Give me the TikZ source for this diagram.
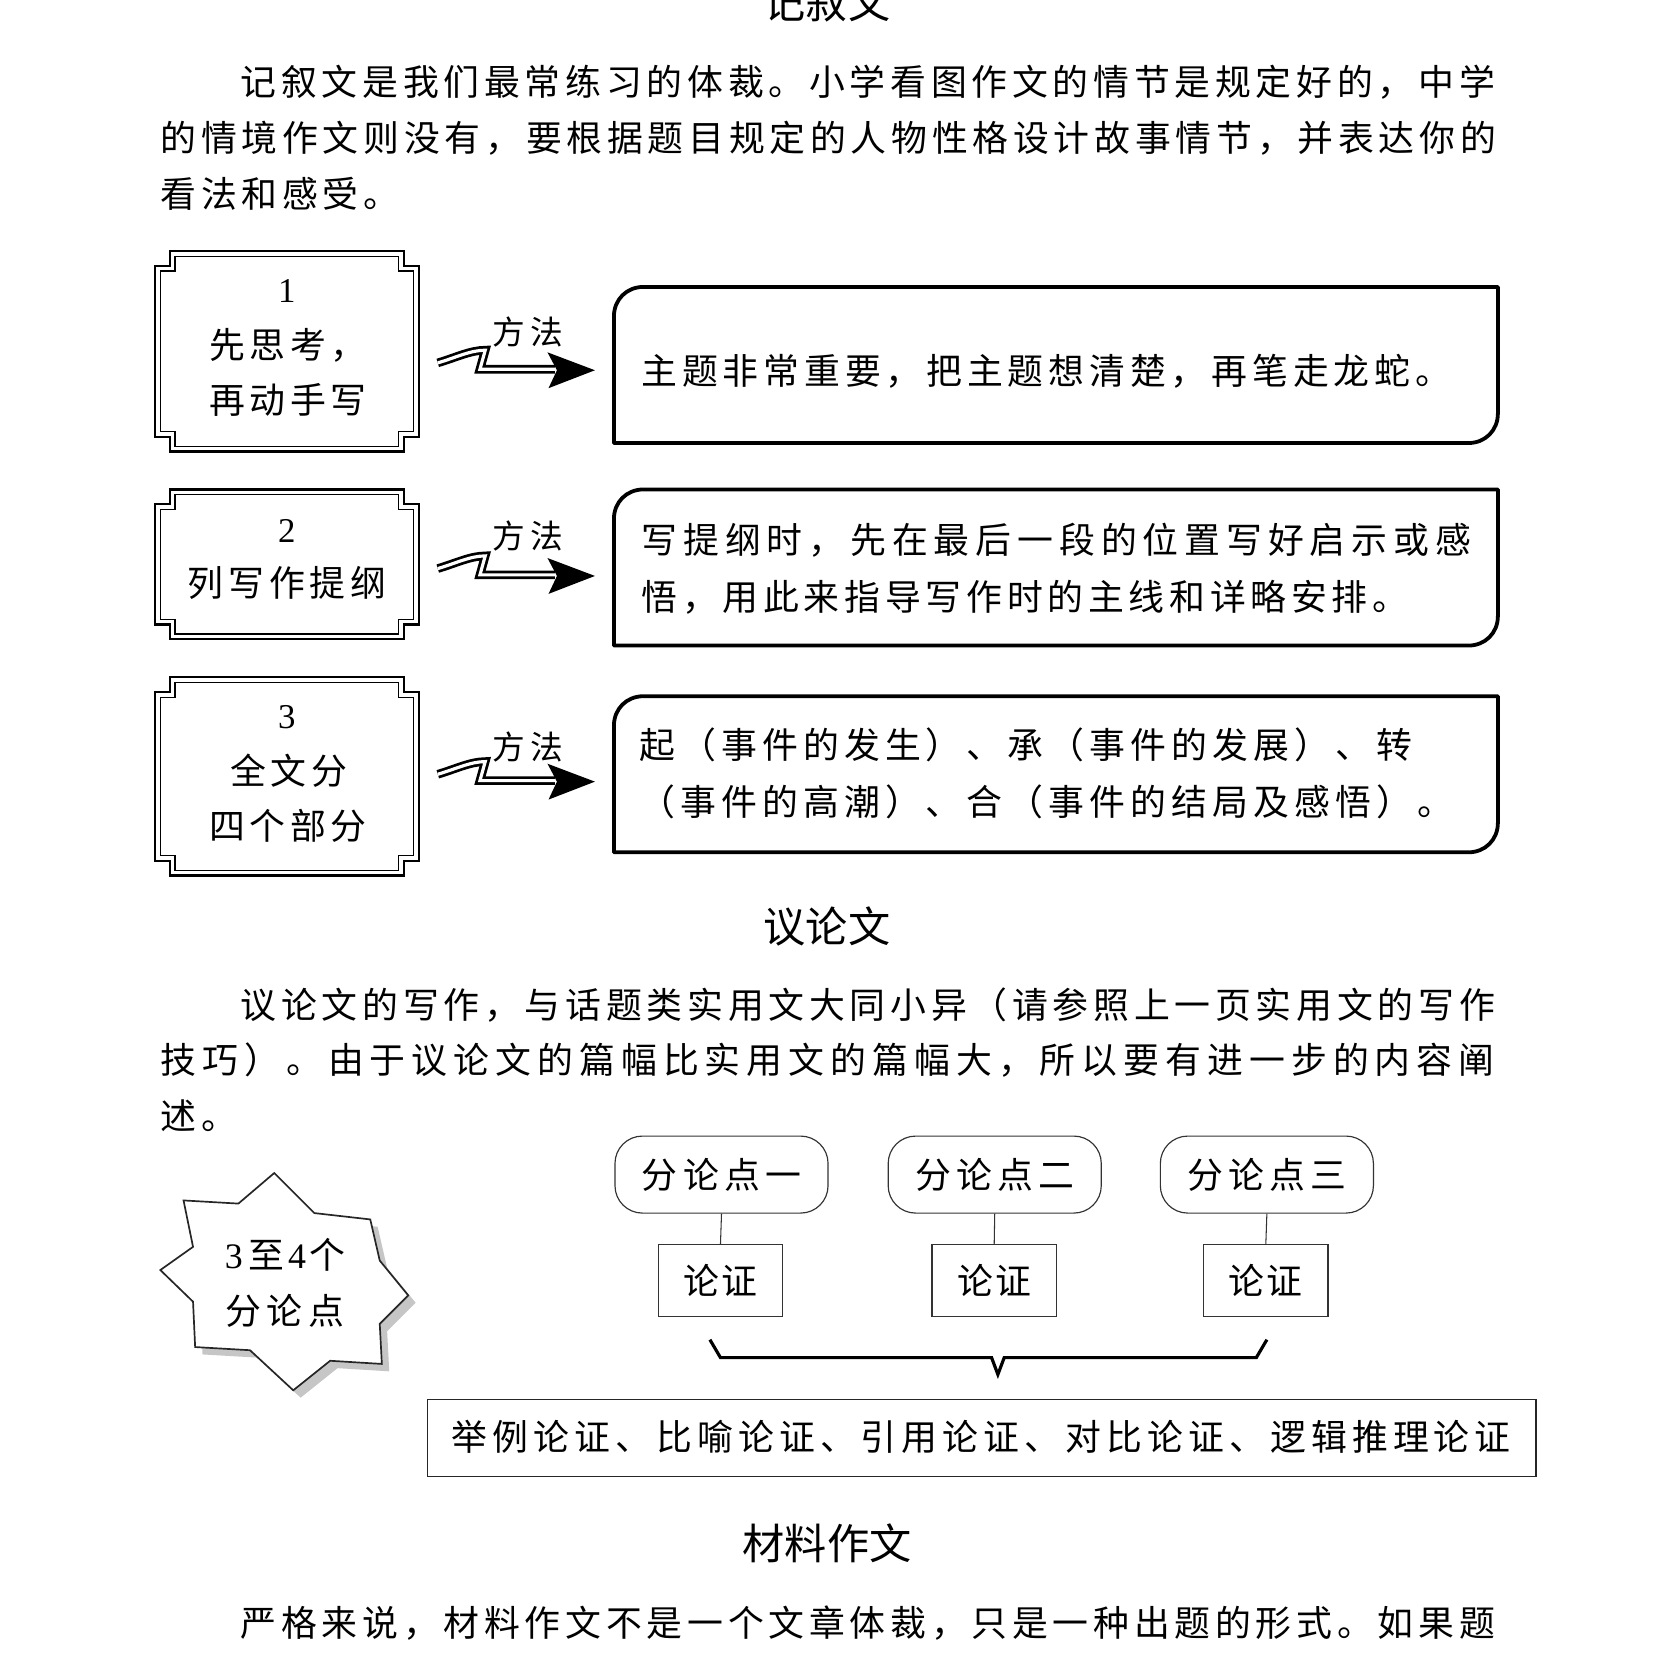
\documentclass[tikz,border=0pt]{standalone}
\usepackage{fontspec}
\setmainfont{Liberation Serif}
\newfontfamily\cjk{Noto Sans CJK SC}
\newlength\cpitch
\newcommand\cstrut{\rule[-0.12em]{0pt}{1em}}
\def\spaux#1{\ifx\relax#1\else\makebox[\cpitch][l]{#1}\expandafter\spaux\fi}
\newcommand\spl[2]{\setlength\cpitch{#1pt}\cstrut\spaux#2\relax\hspace*{\dimexpr1em-\cpitch\relax}}
\newcommand\fancyframe[5]{%
  \draw[line width=2.2pt, fill=white]
    ({#1+14},#2) -- ({#3-14},#2) -- ({#3-14},{#2+14}) -- (#3,{#2+14}) --
    (#3,{#4-14}) -- ({#3-14},{#4-14}) -- ({#3-14},#4) -- ({#1+14},#4) --
    ({#1+14},{#4-14}) -- (#1,{#4-14}) -- (#1,{#2+14}) -- ({#1+14},{#2+14}) -- cycle;
  \draw[line width=1.2pt]
    ({#1+19},{#2+5}) -- ({#3-19},{#2+5}) -- ({#3-19},{#2+19}) -- ({#3-5},{#2+19}) --
    ({#3-5},{#4-19}) -- ({#3-19},{#4-19}) -- ({#3-19},{#4-5}) -- ({#1+19},{#4-5}) --
    ({#1+19},{#4-19}) -- ({#1+5},{#4-19}) -- ({#1+5},{#2+19}) -- ({#1+19},{#2+19}) -- cycle;
  \coordinate (#5) at ({(#1+#3)/2},{(#2+#4)/2});
}
\newcommand\rbox[5]{%
  \draw[line width=3.6pt, line join=round]
    (#1,#4) -- (#1,{#2+28}) .. controls (#1,{#2+12}) and ({#1+12},#2) .. ({#1+28},#2) -- (#3,#2) --
    (#3,{#4-28}) .. controls (#3,{#4-12}) and ({#3-12},#4) .. ({#3-28},#4) -- cycle;
  \coordinate (#5) at (#1,{(#2+#4)/2});
}
\newcommand\marrow[3]{%
  \draw[line width=2.6pt, double=white, double distance=3pt, line join=miter]
    (415,{#1-7}) .. controls (432,{#1-12}) and (446,{#1-19}) .. (460,{#1-19}) -- (455,{#1-1}) -- (526,{#1-1});
  \fill (519,{#1-17}) -- (564,#1) -- (520,{#1+17}) -- (528,#1) -- cycle;
  \node[lbl] (#3) at (500,#2) {\spl{36}{方法}};
}
\tikzset{
  body/.style={anchor=west, inner sep=0pt, font=\cjk\fontsize{34}{40}\selectfont},
  ctext/.style={inner sep=0pt, font=\cjk\fontsize{34}{40}\selectfont},
  lbl/.style={inner sep=0pt, font=\cjk\fontsize{31}{36}\selectfont},
  ttl/.style={inner sep=0pt, font=\cjk\fontsize{40}{48}\selectfont},
  num/.style={inner sep=0pt, font=\fontsize{33}{40}\selectfont},
  pill/.style={draw=black!80, line width=1.1pt, rounded corners=26pt, minimum width=202pt, minimum height=73pt, inner sep=0pt, font=\cjk\fontsize{34}{40}\selectfont},
  proof/.style={draw=black!80, line width=1.1pt, minimum width=118pt, minimum height=68pt, inner sep=0pt, font=\cjk\fontsize{34}{40}\selectfont},
}
\begin{document}
\begin{tikzpicture}[x=1pt,y=-1pt]
\useasboundingbox (0,0) rectangle (1568,1568);
\fill[white] (0,0) rectangle (1568,1568);

% ---- 记叙文 ----
\node[ttl] (t1) at (784,2) {记叙文};
\node[body] (a1) at (228,78) {\spl{38.5}{记叙文是我们最常练习的体裁。小学看图作文的情节是规定好的，中学}};
\node[body] (a2) at (152,131) {\spl{38.5}{的情境作文则没有，要根据题目规定的人物性格设计故事情节，并表达你的}};
\node[body] (a3) at (152,184) {\spl{38.5}{看法和感受。}};

% row 1
\fancyframe{147}{238}{397}{428}{f1}
\node[num] (n1) at (272,276) {1};
\node[body] (f1a) at (198,327) {\spl{38.5}{先思考，}};
\node[body] (f1b) at (198,379) {\spl{38.5}{再动手写}};
\marrow{351}{315}{m1}
\rbox{582}{272}{1420}{420}{r1}
\node[body] (r1a) at (608,352) {\spl{38.6}{主题非常重要，把主题想清楚，再笔走龙蛇。}};

% row 2
\fancyframe{147}{464}{397}{606}{f2}
\node[num] (n2) at (272,503) {2};
\node[body] (f2a) at (178,553) {\spl{38.5}{列写作提纲}};
\marrow{546}{508}{m2}
\rbox{582}{464}{1420}{612}{r2}
\node[body] (r2a) at (608,512) {\spl{39.6}{写提纲时，先在最后一段的位置写好启示或感}};
\node[body] (r2b) at (608,566) {\spl{38.5}{悟，用此来指导写作时的主线和详略安排。}};

% row 3
\fancyframe{147}{642}{397}{830}{f3}
\node[num] (n3) at (272,680) {3};
\node[body] (f3a) at (218,731) {\spl{38.5}{全文分}};
\node[body] (f3b) at (198,783) {\spl{38.5}{四个部分}};
\marrow{741}{708}{m3}
\rbox{582}{660}{1420}{808}{r3}
\node[body] (r3a) at (606,706) {\spl{38.8}{起（事件的发生）、承（事件的发展）、转}};
\node[body] (r3b) at (606,760) {\spl{38.8}{（事件的高潮）、合（事件的结局及感悟）。}};

% ---- 议论文 ----
\node[ttl] (t2) at (784,878) {议论文};
\node[body] (b1) at (228,953) {\spl{38.5}{议论文的写作，与话题类实用文大同小异（请参照上一页实用文的写作}};
\node[body] (b2) at (152,1005) {\spl{39.7}{技巧）。由于议论文的篇幅比实用文的篇幅大，所以要有进一步的内容阐}};
\node[body] (b3) at (152,1058) {\spl{38.5}{述。}};

% star
\fill[gray!45, shift={(7,7)}] (260,1112) -- (298,1150) -- (351,1156) -- (360,1195) -- (387,1228) -- (360,1255) -- (362,1293) -- (313,1290) -- (278,1318) -- (237,1280) -- (185,1277) -- (183,1234) -- (152,1204) -- (183,1182) -- (174,1138) -- (226,1141) -- cycle;
\draw[line width=1.6pt, draw=black!85, fill=white, line join=miter] (260,1112) -- (298,1150) -- (351,1156) -- (360,1195) -- (387,1228) -- (360,1255) -- (362,1293) -- (313,1290) -- (278,1318) -- (237,1280) -- (185,1277) -- (183,1234) -- (152,1204) -- (183,1182) -- (174,1138) -- (226,1141) -- cycle;
\node[body] (s1) at (213,1190) {\cstrut{\rmfamily 3}\hspace{5pt}至\hspace{4pt}{\rmfamily 4}\hspace{3pt}个};
\node[ctext] (s2) at (270,1243) {\spl{39}{分论点}};

% points
\node[pill] (p1) at (684,1113.5) {\spl{39}{分论点一}};
\node[pill] (p2) at (943,1113.5) {\spl{39}{分论点二}};
\node[pill] (p3) at (1201,1113.5) {\spl{39}{分论点三}};
\node[proof] (z1) at (683,1214) {\spl{36}{论证}};
\node[proof] (z2) at (942.5,1214) {\spl{36}{论证}};
\node[proof] (z3) at (1200,1214) {\spl{36}{论证}};
\draw[line width=1pt, black!80] (p1.south) -- (z1.north);
\draw[line width=1pt, black!80] (p2.south) -- (z2.north);
\draw[line width=1pt, black!80] (p3.south) -- (z3.north);

% brace
\coordinate (bl) at (673,1270);
\coordinate (br) at (1201,1270);
\coordinate (bm) at (946,1303);
\draw[line width=3pt, line join=miter] (bl) -- (683,1287) -- (940,1287) -- (bm) -- (952,1287) -- (1191,1287) -- (br);

\node[draw=black!85, line width=1.2pt, minimum width=1051pt, minimum height=73pt, inner sep=0pt] (meth) at (930.5,1363.5) {};
\node[body] (methtxt) at (428,1362) {\spl{38.8}{举例论证、比喻论证、引用论证、对比论证、逻辑推理论证}};

% ---- 材料作文 ----
\node[ttl] (t3) at (784,1463) {材料作文};
\node[body] (c1) at (228,1538) {\spl{38.5}{严格来说，材料作文不是一个文章体裁，只是一种出题的形式。如果题}};
\end{tikzpicture}
\end{document}
